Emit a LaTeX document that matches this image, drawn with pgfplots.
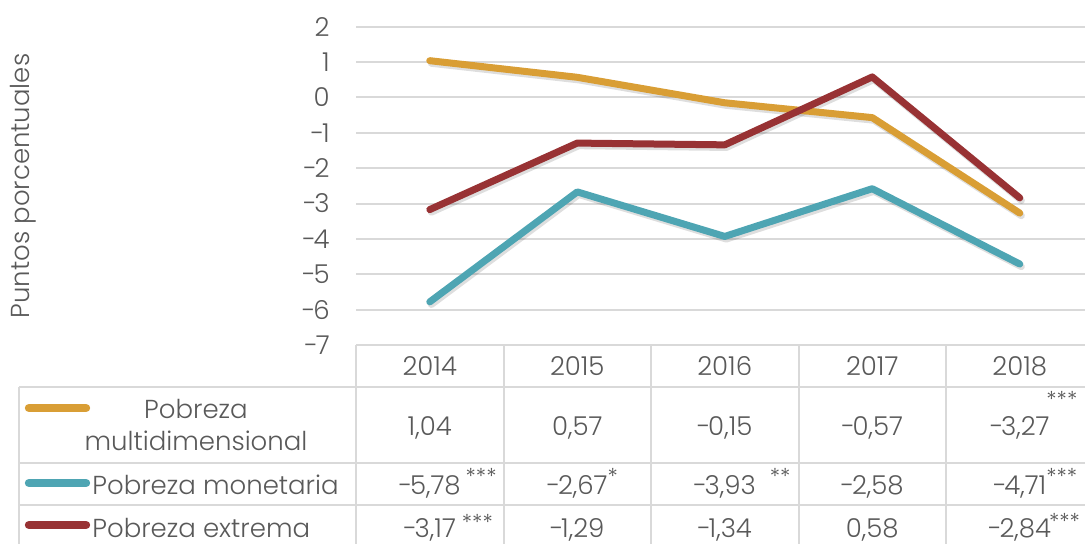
\documentclass[border=0pt]{standalone}
\usepackage{pgfplots}
\pgfplotsset{compat=1.18}
\usepackage{fontspec}
\IfFontExistsTF{Poppins Light}{\setmainfont{Poppins Light}}{\setmainfont{Poppins}}

\definecolor{txt}{HTML}{595959}
\definecolor{grille}{HTML}{D9D9D9}
\definecolor{multi}{HTML}{D99E35}
\definecolor{mone}{HTML}{4EA5B3}
\definecolor{extr}{HTML}{983234}

\newcommand\fs{\fontsize{13}{16}\selectfont}
% guion negativo mas ceñido
\newcommand\mn{-\kern-1.2pt}
% asteriscos de significancia
\newcommand\estr[2][5pt]{\raisebox{#1}{\fontsize{11}{11}\selectfont #2}}

\pgfplotsset{
  serie/.style={line width=3.5pt, line cap=round, line join=round},
  sombra/.style={black, opacity=0.13, line width=3.5pt, line cap=round, line join=round,
    xshift=0.8pt, yshift=-1.3pt},
}

\begin{document}
\begin{tikzpicture}[font=\fs]
\begin{axis}[
  at={(178pt,-172.5pt)}, anchor=south west,
  scale only axis, width=368.75pt, height=159.15pt,
  xmin=-0.5, xmax=4.5, ymin=-7, ymax=2,
  xtick=\empty, ytick={-7,-6,...,2},
  yticklabels={\mn7,\mn6,\mn5,\mn4,\mn3,\mn2,\mn1,0,1,2},
  ymajorgrids, grid style={grille, line width=1pt},
  axis line style={draw=none}, major tick length=0pt,
  yticklabel style={anchor=east, inner sep=0pt, xshift=-13pt, text=txt, font=\fs},
  clip=false,
]
% sombras
\addplot[sombra] coordinates {(0,1.04) (1,0.57) (2,-0.15) (3,-0.57) (4,-3.27)};
\addplot[sombra] coordinates {(0,-5.78) (1,-2.67) (2,-3.93) (3,-2.58) (4,-4.71)};
\addplot[sombra] coordinates {(0,-3.17) (1,-1.29) (2,-1.34) (3,0.58) (4,-2.84)};
% series
\addplot[serie, multi] coordinates {(0,1.04) (1,0.57) (2,-0.15) (3,-0.57) (4,-3.27)};
\addplot[serie, mone] coordinates {(0,-5.78) (1,-2.67) (2,-3.93) (3,-2.58) (4,-4.71)};
\addplot[serie, extr] coordinates {(0,-3.17) (1,-1.29) (2,-1.34) (3,0.58) (4,-2.84)};
\end{axis}

\begin{scope}[x=0.5pt, y=-0.5pt, every node/.style={text=txt}]
  \node[rotate=90] at (23,186) {Puntos porcentuales};
  % tabla de datos
  \draw[grille, line width=1pt] (356,345) -- (1094,345);
  \foreach \y in {387,463,505}
    \draw[grille, line width=1pt] (19,\y) -- (1094,\y);
  \draw[grille, line width=1pt] (19,387) -- (19,552);
  \foreach \x in {356,503.5,651,798.5,946,1093.5}
    \draw[grille, line width=1pt] (\x,345) -- (\x,552);
  \foreach \i/\a in {0/2014,1/2015,2/2016,3/2017,4/2018}
    \node[anchor=base] at ({356+147.5*(\i+0.5)},375) {\a};
  % claves
  \draw[multi, line width=4.2pt, line cap=round] (29,408) -- (86,408);
  \draw[mone, line width=4.2pt, line cap=round] (29,483) -- (86,483);
  \draw[extr, line width=4.2pt, line cap=round] (29,525) -- (86,525);
  \node[anchor=base, inner sep=0pt] at (196,418) {Pobreza};
  \node[anchor=base, inner sep=0pt] at (196,450) {multidimensional};
  \node[anchor=base west, inner sep=0pt] at (92,494) {Pobreza monetaria};
  \node[anchor=base west, inner sep=0pt] at (92,537) {Pobreza extrema};
  % fila 1
  \node[anchor=base] at (429.75,435) {1,04};
  \node[anchor=base] at (577.25,435) {0,57};
  \node[anchor=base] at (724.75,435) {\mn0,15};
  \node[anchor=base] at (872.25,435) {\mn0,57};
  \node[anchor=base] at (1019.75,435) {\mn3,27};
  \node[anchor=base west, inner sep=0pt] at (1046,407) {\estr[0pt]{***}};
  % fila 2
  \node[anchor=base] at (429.75,494) {\mn5,78\rlap{\hspace{2.5pt}\estr{***}}};
  \node[anchor=base] at (577.25,494) {\mn2,67\rlap{\estr{*}}};
  \node[anchor=base] at (724.75,494) {\mn3,93\rlap{\hspace{7pt}\estr{**}}};
  \node[anchor=base] at (872.25,494) {\mn2,58};
  \node[anchor=base] at (1019.75,494) {\mn4,71\rlap{\estr{***}}};
  % fila 3
  \node[anchor=base] at (429.75,537) {\mn3,17\rlap{\hspace{3pt}\estr[3.5pt]{***}}};
  \node[anchor=base] at (577.25,537) {\mn1,29};
  \node[anchor=base] at (724.75,537) {\mn1,34};
  \node[anchor=base] at (872.25,537) {0,58};
  \node[anchor=base] at (1019.75,537) {\mn2,84\rlap{\hspace{-1pt}\estr[4pt]{***}}};
  \pgfresetboundingbox
  \useasboundingbox (0,0) rectangle (1085,543);
\end{scope}
\end{tikzpicture}
\end{document}
